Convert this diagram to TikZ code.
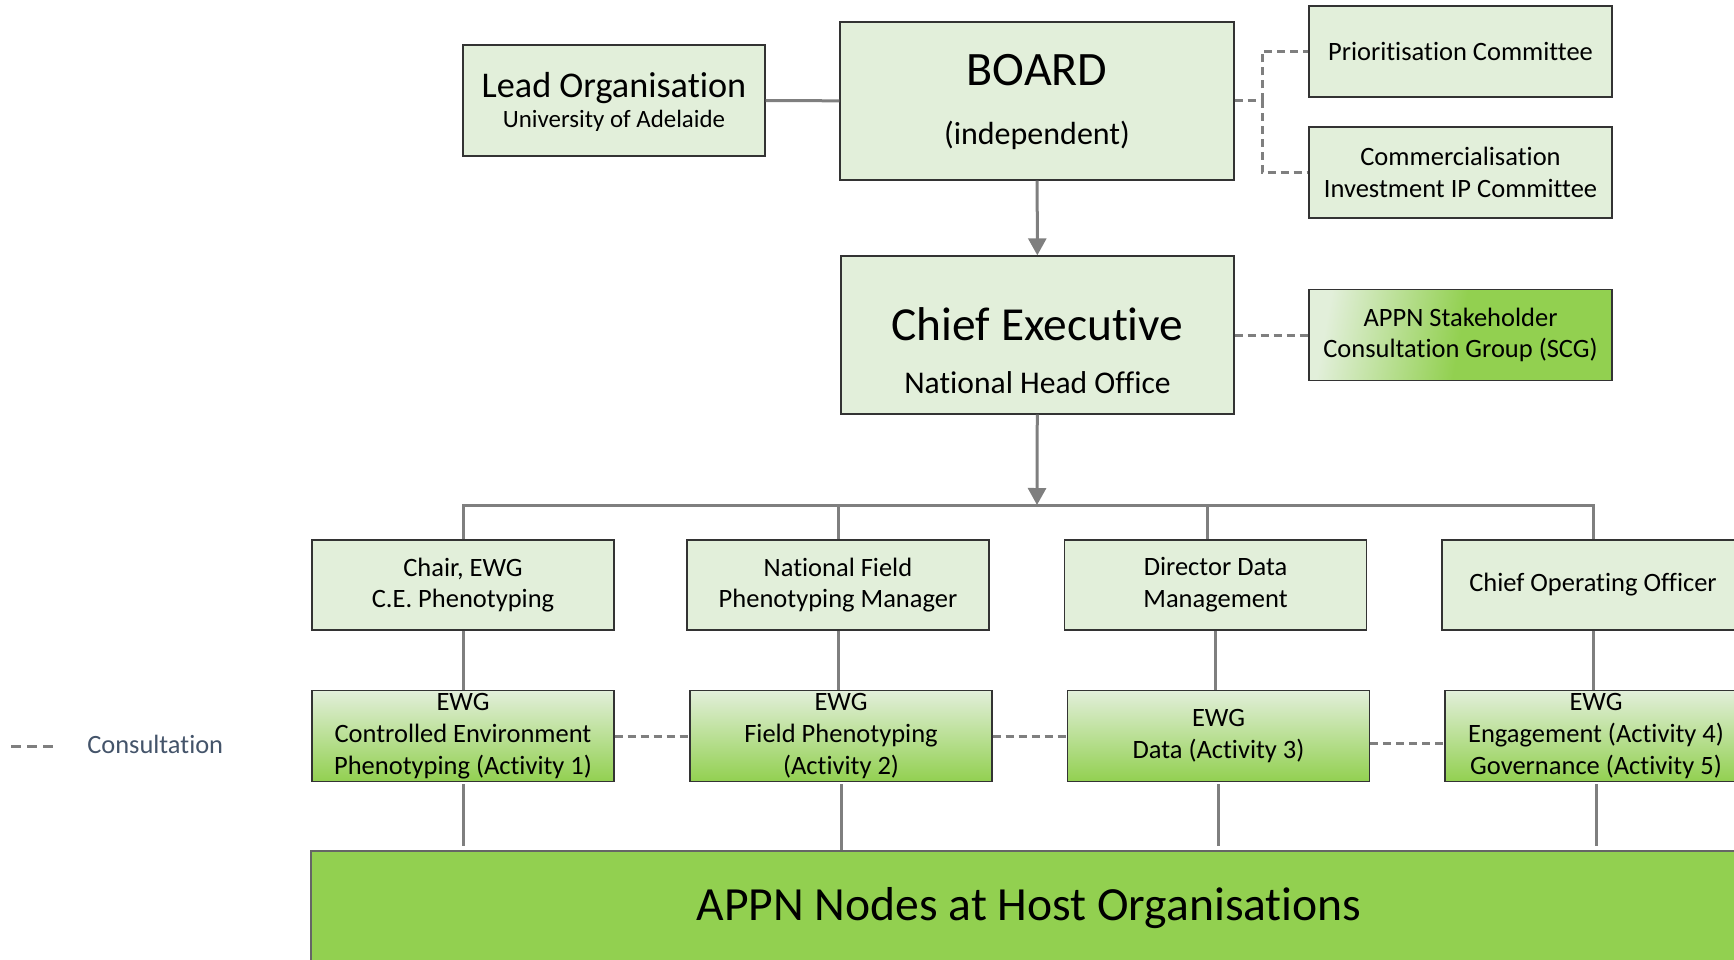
\documentclass[tikz,border=0pt]{standalone}
\usepackage{fontspec}
\setmainfont{Carlito}[Ligatures={NoCommon,NoRequired,NoContextual}, Contextuals=NoAlternate]
\usepackage{tikz}
\usetikzlibrary{calc, %for relative coord calculations
                arrows.meta, % for arrow tips
                positioning}

\definecolor{paleGreen}{HTML}{E2EFDA}
\definecolor{appnGreen}{HTML}{92D050}
\definecolor{lineGray}{HTML}{7F7F7F}
\definecolor{legendText}{HTML}{44546A}

\begin{document}
\begin{tikzpicture}[x=0.5pt, y=-0.5pt,
                    Unit/.style={draw=black!80, line width=0.7pt, fill=paleGreen, inner sep=0pt, align=center,
                                 minimum width=151pt, minimum height=45pt,
                                 font=\fontsize{13.25}{15.85}\selectfont},
                    Ewg/.style={Unit, top color=paleGreen, bottom color=appnGreen},
                    Label/.style={anchor=base, inner sep=0pt},
                    link/.style={draw=lineGray, line width=1.5pt},
                    arrowlink/.style={link, -{Triangle[length=8.5pt, width=9pt]}},
                    consult/.style={draw=lineGray, line width=1.5pt, dash pattern=on 4pt off 2.5pt}
                    ]

    \useasboundingbox (0,0) rectangle (1734,959);
    \clip (0,0) rectangle (1734,959);

    % TOP %
    \node[Unit, minimum height=55.5pt] (lead) at (614,100.5) {};
    \node[Label, font=\fontsize{18.1}{20}\selectfont] (leadname) at (614,97.7) {Lead Organisation};
    \node[Label, font=\fontsize{12.45}{15}\selectfont] (leaduni) at (614,127.2) {University of Adelaide};

    \node[Unit, minimum width=197pt, minimum height=79pt] (board) at (1037,101) {};
    \node[Label, font=\fontsize{24}{28}\selectfont] (boardname) at (1037,85.5) {BOARD};
    \node[Label, font=\fontsize{16}{19}\selectfont] (boardsub) at (1037,144.5) {(independent)};

    \node[Unit, minimum width=151.5pt, minimum height=45.5pt] (prio) at (1460.5,51.4) {Prioritisation Committee};
    \node[Unit, minimum width=151.5pt, minimum height=45.5pt] (comm) at (1460.5,172.5) {Commercialisation\\Investment IP Committee};

    % CHIEF EXECUTIVE %
    \node[Unit, minimum width=196.5pt, minimum height=79pt] (ce) at (1037.5,335) {};
    \node[Label, font=\fontsize{23.7}{28}\selectfont] (cename) at (1037.5,340) {Chief Executive};
    \node[Label, font=\fontsize{15.8}{19}\selectfont] (cesub) at (1037.5,393) {National Head Office};

    \node[Unit, minimum width=151.5pt, minimum height=45.5pt, top color=paleGreen, bottom color=appnGreen,
          middle color=appnGreen, shading angle=80] (scg) at (1460.5,335) {APPN Stakeholder\\Consultation Group (SCG)};

    \coordinate (split) at (1262,100);
    \coordinate (bus) at (1037,505);

    % MANAGERS %
    \foreach \name/\x/\txt in {chair/463/{Chair, EWG\\C.E. Phenotyping},
                               field/838/{National Field\\Phenotyping Manager},
                               data/1215.5/{Director Data\\Management},
                               coo/1593/{Chief Operating Officer}}
    \node[Unit] (\name) at (\x,585) {\txt};

    % EWGS %
    \foreach \name/\x/\txt in {ewgA/463/{EWG\\Controlled Environment\\Phenotyping (Activity 1)},
                               ewgB/841/{EWG\\Field Phenotyping\\(Activity 2)},
                               ewgC/1218.5/{EWG\\Data (Activity 3)},
                               ewgD/1596/{EWG\\Engagement (Activity 4)\\Governance (Activity 5)}}
    \node[Ewg, minimum height=45.5pt] (\name) at (\x,736.2) {\txt};

    % HOST NODES %
    \node[draw=black!60, line width=1pt, fill=appnGreen, minimum width=718pt, minimum height=57.5pt,
          inner sep=0pt, font=\fontsize{23.8}{28}\selectfont] (host) at (1029,908) {};
    \node[Label, font=\fontsize{23.8}{28}\selectfont] (hostname) at (1029,920) {APPN Nodes at Host Organisations};

    % LINES %
    \draw[link] (lead) -- (board);
    \draw[arrowlink] (board) -- (ce);
    \draw[arrowlink] (ce) -- (bus);
    \draw[link] (chair.north) |- (bus) -| (coo.north);
    \draw[link] (field.north) -- (field.north |- bus);
    \draw[link] ([xshift=-4pt]data.north) -- ([xshift=-4pt]data.north |- bus);

    \foreach \a/\b in {chair/ewgA, field/ewgB, data/ewgC, coo/ewgD}
    \draw[link] (\a.south) -- (\a.south |- \b.north);

    \foreach \b/\gap in {ewgA/2pt, ewgB/0pt, ewgC/2pt, ewgD/2pt}
    \draw[link, shorten <=1pt, shorten >=\gap] (\b.south) -- (\b.south |- host.north);

    % CONSULTATION %
    \draw[consult] (board.east |- split) -- (split) |- (prio.west);
    \draw[consult] (split) |- (comm.west);
    \draw[consult] (ce) -- (scg);
    \draw[consult] (ewgA) -- (ewgB);
    \draw[consult] (ewgB) -- (ewgC);
    \draw[consult] ($(ewgC.east)+(0,7)$) -- ($(ewgD.west)+(0,7)$);

    % LEGEND %
    \coordinate (keyA) at (11,746);
    \coordinate (keyB) at (53,746);
    \draw[consult, dash pattern=on 5pt off 3pt] (keyA) -- (keyB);
    \node[anchor=base west, inner sep=0pt, text=legendText, font=\fontsize{13.2}{16}\selectfont] (key) at (87,753) {Consultation};
\end{tikzpicture}
\end{document}
